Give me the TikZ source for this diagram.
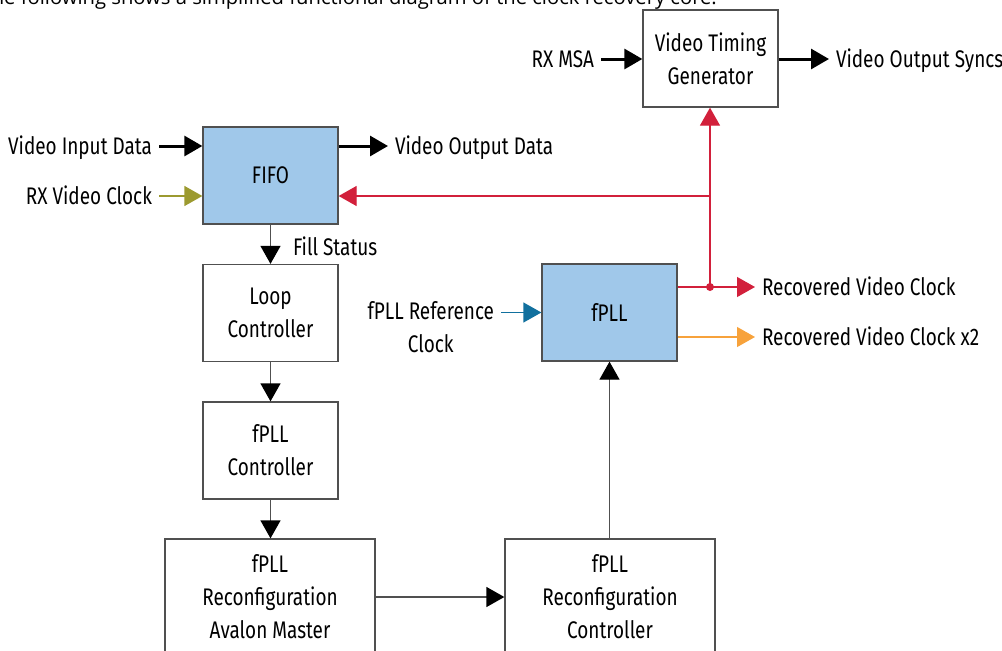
\documentclass[tikz,border=0pt]{standalone}
\usepackage{fontspec}
\setmainfont[FakeStretch=0.79]{Fira Sans}
\newfontfamily\introfont{Open Sans}
\usetikzlibrary{arrows.meta}

\definecolor{blockblue}{HTML}{A0C8EA}
\definecolor{clkolive}{HTML}{9C9A30}
\definecolor{clkred}{HTML}{D2203B}
\definecolor{clkblue}{HTML}{11709E}
\definecolor{clkorange}{HTML}{F7A23B}
\definecolor{wiregray}{HTML}{505050}

\begin{document}
\begin{tikzpicture}[x=1pt, y=-1pt, >={Triangle[length=18pt,width=20pt]},
	font=\fontsize{24}{33}\selectfont,
	block/.style={draw=wiregray, line width=1.3pt, minimum width=135pt, minimum height=97pt, inner sep=0pt, align=center},
	bigblock/.style={block, minimum width=210pt, minimum height=116pt},
	sig/.style={inner sep=0pt, outer sep=7pt, text height=16.5pt, text depth=0pt},
	wire/.style={->, draw=wiregray, line width=1.3pt, >={Triangle[length=18pt,width=20pt,color=black]}},
	bus/.style={->, line width=3pt},
	clk/.style={->, line width=1.3pt, color=#1}]
		\useasboundingbox (0,0) rectangle (1002,651);
		\clip (0,0) rectangle (1002,651);
		
		% Intro line, cut at the top
		\node[anchor=base east, inner sep=0pt, font=\introfont\fontsize{20.2}{24}\selectfont] (intro) at (717,4.5) {The following shows a simplified functional diagram of the clock recovery core.};
		
		% Blocks
		\node[block] (vtg) at (710.5,58.5) {Video Timing\\Generator};
		\node[block, fill=blockblue] (fifo) at (270.5,175.5) {FIFO};
		\node[block] (loop) at (270.5,313) {Loop\\Controller};
		\node[block] (fpllctl) at (270.5,450.5) {fPLL\\Controller};
		\node[bigblock] (avalon) at (270,597) {fPLL\\Reconfiguration\\Avalon Master};
		\node[bigblock] (reconf) at (610,597) {fPLL\\Reconfiguration\\Controller};
		\node[block, fill=blockblue] (fpll) at (609.5,312.5) {fPLL};
		
		% Signal labels
		\node[sig, anchor=east] (vin) at (159,146) {Video Input Data};
		\node[sig, anchor=east] (rxclk) at (159,196) {RX Video Clock};
		\node[sig, anchor=west] (vout) at (388,146) {Video Output Data};
		\node[sig, anchor=east] (rxmsa) at (601,59) {RX MSA};
		\node[sig, anchor=west] (vsync) at (829,59) {Video Output Syncs};
		\node[sig, anchor=west] (fill) at (286,247) {Fill Status};
		\node[inner sep=0pt, outer sep=7pt, anchor=east, align=center] (refclk) at (501,327) {fPLL Reference\\Clock};
		\node[sig, anchor=west] (rvc) at (755,287) {Recovered Video Clock};
		\node[sig, anchor=west] (rvc2) at (755,337) {Recovered Video Clock x2};
		
		% Junctions
		\coordinate (tap) at (710,287);
		\coordinate (branch) at (710,196);
		
		% Data paths
		\draw[bus] (vin) -- (vin -| fifo.west);
		\draw[bus] (fifo.east |- vout) -- (vout);
		\draw[bus] (rxmsa) -- (rxmsa -| vtg.west);
		\draw[bus] (vtg.east |- vsync) -- (vsync);
		
		% Control chain
		\foreach \a/\b in {fifo/loop, loop/fpllctl, fpllctl/avalon}
			\draw[wire] (\a.south) -- (\a.south |- \b.north);
		\draw[wire] (avalon) -- (reconf);
		\draw[wire] (fpll.south |- reconf.north) -- (fpll.south);
		
		% Clocks
		\draw[clk=clkolive] (rxclk) -- (rxclk -| fifo.west);
		\draw[clk=clkblue] (refclk.east |- fpll) -- (fpll);
		\draw[clk=clkred] (fpll.east |- rvc) -- (rvc);
		\draw[clk=clkred] (tap) -- (tap |- vtg.south);
		\draw[clk=clkred] (branch) -- (fifo.east |- branch);
		\fill[clkred] (tap) circle (4pt);
		\draw[clk=clkorange] (fpll.east |- rvc2) -- (rvc2);
		
	\end{tikzpicture}
\end{document}
